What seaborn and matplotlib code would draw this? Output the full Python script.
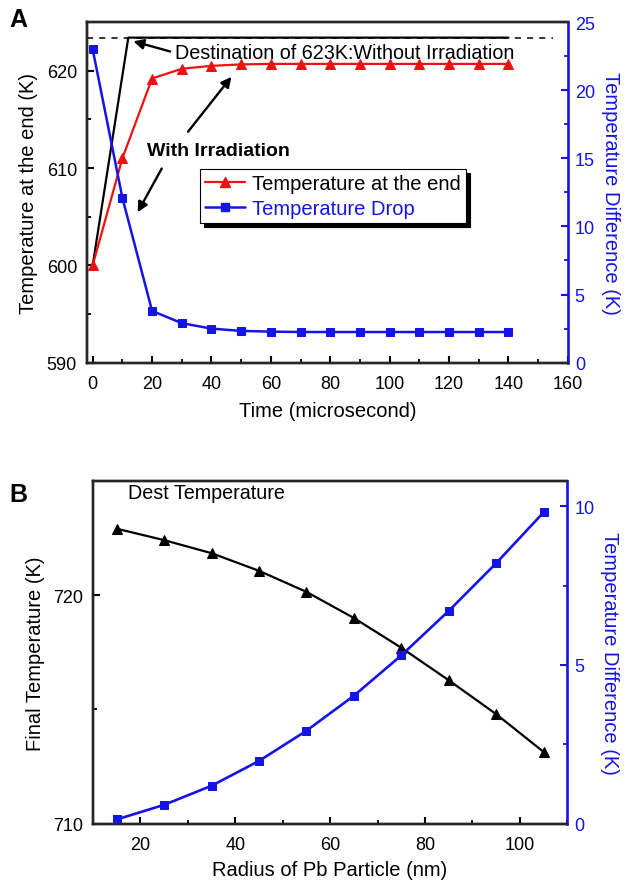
import matplotlib
matplotlib.use("Agg")
import matplotlib.pyplot as plt
import seaborn as sns
from matplotlib.ticker import MultipleLocator
from matplotlib.lines import Line2D

# ---- Panel A data ----
time_us = [0, 10, 20, 30, 40, 50, 60, 70, 80, 90, 100, 110, 120, 130, 140]
temp_end = [600.0, 611.0, 619.2, 620.2, 620.5, 620.65, 620.7, 620.7, 620.7,
            620.7, 620.7, 620.7, 620.7, 620.7, 620.7]
temp_drop = [23.0, 12.1, 3.8, 2.9, 2.5, 2.33, 2.28, 2.25, 2.25,
             2.25, 2.25, 2.25, 2.25, 2.25, 2.25]
noirr_time = [0, 12, 140]
noirr_temp = [600.0, 623.4, 623.4]
dest_temp = 623.4

# ---- Panel B data ----
radius_nm = [15, 25, 35, 45, 55, 65, 75, 85, 95, 105]
final_temp = [722.9, 722.4, 721.83, 721.06, 720.14, 719.0, 717.7, 716.28, 714.8, 713.15]
temp_diff = [0.14, 0.6, 1.2, 1.98, 2.93, 4.03, 5.3, 6.7, 8.2, 9.8]

RED = "#ee1111"
BLUE = "#1414e6"

sns.set_theme(style="ticks")
plt.rcParams["font.family"] = ["Liberation Sans", "DejaVu Sans"]
plt.rcParams["axes.linewidth"] = 1.7
plt.rcParams["xtick.direction"] = "in"
plt.rcParams["ytick.direction"] = "in"
plt.rcParams["text.color"] = "black"
plt.rcParams["axes.labelcolor"] = "black"
plt.rcParams["xtick.color"] = "black"
plt.rcParams["ytick.color"] = "black"

fig = plt.figure(figsize=(6.24, 8.87), dpi=100)
axA = fig.add_axes([0.139, 0.590, 0.771, 0.384])
axB = fig.add_axes([0.149, 0.070, 0.760, 0.387])


def style_axes(ax, ax2):
    ax.tick_params(axis="both", which="major", length=5, width=1.5, labelsize=13,
                   color="black", labelcolor="black")
    ax.tick_params(axis="x", which="major", pad=9)
    ax.tick_params(axis="y", which="major", pad=7)
    ax.tick_params(axis="both", which="minor", length=3, width=1.3)
    ax2.tick_params(axis="y", which="major", length=5, width=1.5, labelsize=13,
                    color=BLUE, labelcolor=BLUE, pad=5)
    ax2.tick_params(axis="y", which="minor", length=3, width=1.3, color=BLUE)
    ax2.spines["right"].set_color(BLUE)
    ax2.spines["right"].set_linewidth(1.9)
    for s in ["top", "left", "bottom"]:
        ax.spines[s].set_visible(True)
        ax.spines[s].set_color("black")
    ax.spines["right"].set_visible(False)


# ---------------- Panel A ----------------
axA2 = axA.twinx()
axA.hlines(dest_temp, -2, 155, colors="black", linestyles=(0, (4, 4)), linewidth=1.1)
sns.lineplot(x=noirr_time, y=noirr_temp, ax=axA, color="black", linewidth=1.6,
             sort=False, legend=False)
sns.lineplot(x=time_us, y=temp_end, ax=axA, color=RED, linewidth=1.6, marker="^",
             markersize=7, markeredgecolor=RED, legend=False)
sns.lineplot(x=time_us, y=temp_drop, ax=axA2, color=BLUE, linewidth=1.8, marker="s",
             markersize=5.5, markeredgecolor=BLUE, legend=False)

axA.set_xlim(-2, 160)
axA.set_ylim(590, 625)
axA2.set_ylim(0, 25)
axA.xaxis.set_major_locator(MultipleLocator(20))
axA.xaxis.set_minor_locator(MultipleLocator(10))
axA.yaxis.set_major_locator(MultipleLocator(10))
axA.yaxis.set_minor_locator(MultipleLocator(5))
axA2.yaxis.set_major_locator(MultipleLocator(5))
axA2.yaxis.set_minor_locator(MultipleLocator(2.5))
style_axes(axA, axA2)

axA.set_xlabel("Time (microsecond)", fontsize=14.5, labelpad=6)
axA.set_ylabel("Temperature at the end (K)", fontsize=14.5, labelpad=6)
axA2.set_ylabel("Temperature Difference (K)", fontsize=14.5, color=BLUE,
                rotation=270, labelpad=18)

axA.annotate("", xy=(12.8, 623.1), xytext=(27, 621.9),
             arrowprops=dict(arrowstyle="-|>", color="black", lw=1.7, mutation_scale=15))
axA.text(27.8, 621.3, "Destination of 623K:Without Irradiation", fontsize=14.2,
         ha="left", va="baseline")
axA.text(42.5, 611.8, "With Irradiation", fontsize=14, fontweight="bold",
         ha="center", va="center")
axA.annotate("", xy=(47.3, 619.6), xytext=(31.5, 613.5),
             arrowprops=dict(arrowstyle="-|>", color="black", lw=1.7, mutation_scale=15))
axA.annotate("", xy=(14.7, 605.2), xytext=(23.7, 610.2),
             arrowprops=dict(arrowstyle="-|>", color="black", lw=1.7, mutation_scale=15))

handles = [
    Line2D([], [], color=RED, marker="^", markersize=7, linewidth=1.6),
    Line2D([], [], color=BLUE, marker="s", markersize=5.5, linewidth=1.8),
]
leg = axA.legend(handles, ["Temperature at the end", "Temperature Drop"],
                 loc="upper left", bbox_to_anchor=(36, 609.9),
                 bbox_transform=axA.transData, fontsize=14.5, frameon=True,
                 fancybox=False, framealpha=1, edgecolor="black", handlelength=2.0,
                 handletextpad=0.35, borderpad=0.25, labelspacing=0.3,
                 borderaxespad=0, labelcolor=["black", BLUE],
                 shadow={"facecolor": "black", "edgecolor": "black", "alpha": 1,
                         "ox": 3, "oy": -3})
leg.get_frame().set_linewidth(0.8)

fig.text(0.015, 0.977, "A", fontsize=18, fontweight="bold", va="center")

# ---------------- Panel B ----------------
axB2 = axB.twinx()
sns.lineplot(x=radius_nm, y=final_temp, ax=axB, color="black", linewidth=1.6,
             marker="^", markersize=7, markeredgecolor="black", legend=False)
sns.lineplot(x=radius_nm, y=temp_diff, ax=axB2, color=BLUE, linewidth=1.9,
             marker="s", markersize=5.5, markeredgecolor=BLUE, legend=False)

axB.set_xlim(10, 110)
axB.set_ylim(710, 725)
axB2.set_ylim(0, 10.8)
axB.xaxis.set_major_locator(MultipleLocator(20))
axB.xaxis.set_minor_locator(MultipleLocator(10))
axB.yaxis.set_major_locator(MultipleLocator(10))
axB.yaxis.set_minor_locator(MultipleLocator(5))
axB2.yaxis.set_major_locator(MultipleLocator(5))
axB2.yaxis.set_minor_locator(MultipleLocator(2.5))
style_axes(axB, axB2)

axB.set_xlabel("Radius of Pb Particle (nm)", fontsize=14.5, labelpad=5)
axB.set_ylabel("Final Temperature (K)", fontsize=14.5, labelpad=6)
axB2.set_ylabel("Temperature Difference (K)", fontsize=14.5, color=BLUE,
                rotation=270, labelpad=18)
axB.text(0.074, 0.965, "Dest Temperature", fontsize=14.2, transform=axB.transAxes,
         ha="left", va="center")

fig.text(0.015, 0.442, "B", fontsize=18, fontweight="bold", va="center")

fig.savefig("out.png", dpi=100)
